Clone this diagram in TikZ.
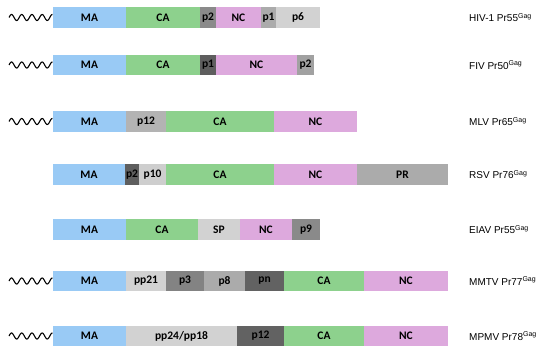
\documentclass[tikz,border=0pt]{standalone}
\usepackage{fontspec}
\setmainfont{Liberation Sans}
\newfontfamily\segfont{Carlito}
\definecolor{cMA}{HTML}{99CAF5}
\definecolor{cCA}{HTML}{8DD18D}
\definecolor{cNC}{HTML}{DDA9DD}
\definecolor{gA}{HTML}{D2D2D2}
\definecolor{gB}{HTML}{ABABAB}
\definecolor{gC}{HTML}{8A8A8A}
\definecolor{gD}{HTML}{5E5E5E}
\newcommand{\seg}[6]{%
  \pgfmathsetmacro{\segw}{#3-#2}%
  \pgfmathsetmacro{\segx}{(#2+#3)/2}%
  \node[segbox, fill=#5, minimum width=\segw pt] (#1) at (\segx,#4) {#6};}
\newcommand{\squig}[2]{%
  \draw[line width=1.1pt, black] plot[domain=9:52.5, samples=90, smooth] (\x, {#2 + 3*sin(360*(\x-9)/10.2 + 180)});
  \coordinate (#1) at (52.5,#2);}
\begin{document}
\begin{tikzpicture}[x=1pt,y=-1pt,
  segbox/.style={rectangle, inner sep=0pt, minimum height=20.5pt, draw=none,
    font=\segfont\bfseries\fontsize{11.5}{13}\selectfont, text=black},
  namelab/.style={anchor=west, inner sep=0pt, font=\fontsize{10}{12}\selectfont}]
\useasboundingbox (0,0) rectangle (550,353);
% HIV-1
\def\yc{17.5}
\squig{hivw}{\yc}
\seg{hivMA}{53}{126}{\yc}{cMA}{MA}
\seg{hivCA}{126}{200}{\yc}{cCA}{CA}
\seg{hivpB}{200}{216}{\yc}{gC}{p2}
\seg{hivNC}{216}{261}{\yc}{cNC}{NC}
\seg{hivpA}{261}{276}{\yc}{gB}{p1}
\seg{hivpF}{276}{320}{\yc}{gA}{p6}
\node[namelab] (hivL) at (469,\yc) {HIV-1 Pr55\textsuperscript{Gag}};
% FIV
\def\yc{65}
\squig{fivw}{\yc}
\seg{fivMA}{53}{126}{\yc}{cMA}{MA}
\seg{fivCA}{126}{200}{\yc}{cCA}{CA}
\seg{fivpA}{200}{216}{\yc}{gD}{p1}
\seg{fivNC}{216}{297}{\yc}{cNC}{NC}
\seg{fivpB}{297}{314}{\yc}{gC!80}{p2}
\node[namelab] (fivL) at (469,\yc) {FIV Pr50\textsuperscript{Gag}};
% MLV
\def\yc{121.5}
\squig{mlvw}{\yc}
\seg{mlvMA}{53}{126}{\yc}{cMA}{MA}
\seg{mlvp}{126}{166}{\yc}{gB!90}{p12}
\seg{mlvCA}{166}{274}{\yc}{cCA}{CA}
\seg{mlvNC}{274}{357}{\yc}{cNC}{NC}
\node[namelab] (mlvL) at (469,\yc) {MLV Pr65\textsuperscript{Gag}};
% RSV
\def\yc{174.5}
\seg{rsvMA}{53}{125}{\yc}{cMA}{MA}
\seg{rsvpB}{125}{139}{\yc}{gD}{p2}
\seg{rsvpT}{139}{166}{\yc}{gA!90!gB}{p10}
\seg{rsvCA}{166}{274}{\yc}{cCA}{CA}
\seg{rsvNC}{274}{357}{\yc}{cNC}{NC}
\seg{rsvPR}{357}{448}{\yc}{gB}{PR}
\node[namelab] (rsvL) at (469,\yc) {RSV Pr76\textsuperscript{Gag}};
% EIAV
\def\yc{229.5}
\seg{eiaMA}{53}{126}{\yc}{cMA}{MA}
\seg{eiaCA}{126}{198}{\yc}{cCA}{CA}
\seg{eiaSP}{198}{240}{\yc}{gA}{SP}
\seg{eiaNC}{240}{292}{\yc}{cNC}{NC}
\seg{eiap}{292}{320}{\yc}{gC}{p9}
\node[namelab] (eiaL) at (469,\yc) {EIAV Pr55\textsuperscript{Gag}};
% MMTV
\def\yc{281}
\squig{mmtw}{\yc}
\seg{mmtMA}{53}{126}{\yc}{cMA}{MA}
\seg{mmtpp}{126}{166}{\yc}{gA}{pp21}
\seg{mmtpT}{166}{204}{\yc}{gC!95!black}{p3}
\seg{mmtpE}{204}{245}{\yc}{gB}{p8}
\seg{mmtpn}{245}{284}{\yc}{gD!90!gC}{pn}
\seg{mmtCA}{284}{364}{\yc}{cCA}{CA}
\seg{mmtNC}{364}{448}{\yc}{cNC}{NC}
\node[namelab] (mmtL) at (469,\yc) {MMTV Pr77\textsuperscript{Gag}};
% MPMV
\def\yc{336}
\squig{mpmw}{\yc}
\seg{mpmMA}{53}{126}{\yc}{cMA}{MA}
\seg{mpmpp}{126}{237}{\yc}{gA}{pp24/pp18}
\seg{mpmp}{237}{284}{\yc}{gD!90!gC}{p12}
\seg{mpmCA}{284}{364}{\yc}{cCA}{CA}
\seg{mpmNC}{364}{448}{\yc}{cNC}{NC}
\node[namelab] (mpmL) at (469,\yc) {MPMV Pr78\textsuperscript{Gag}};
\end{tikzpicture}
\end{document}
